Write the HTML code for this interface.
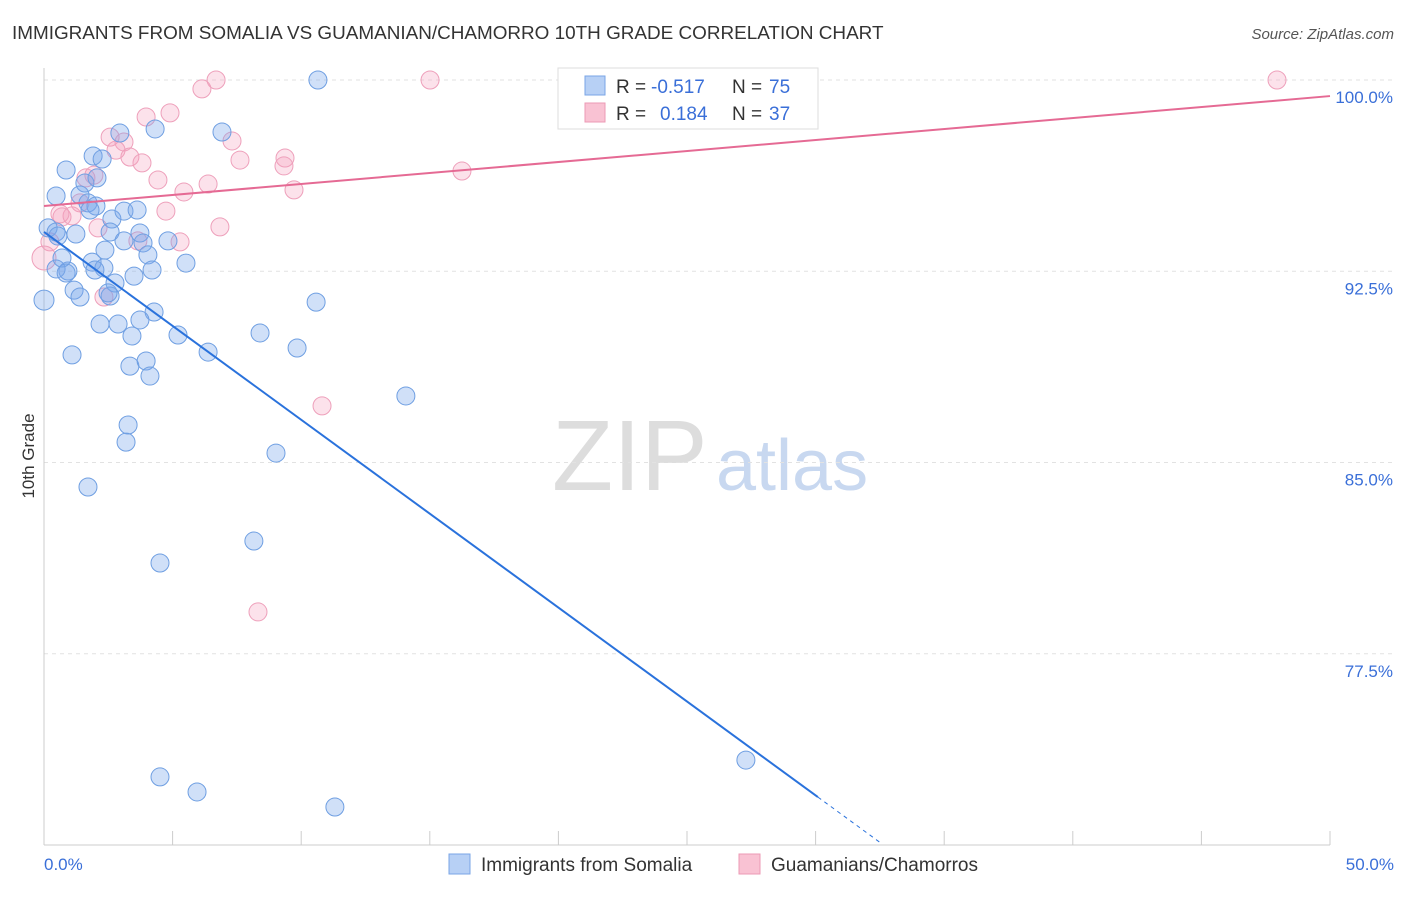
<!DOCTYPE html>
<html><head><meta charset="utf-8"><style>
body{margin:0;background:#fff;font-family:"Liberation Sans",sans-serif;}
svg text{font-family:"Liberation Sans",sans-serif;}
</style></head><body>
<svg id="chart" width="1406" height="892" xmlns="http://www.w3.org/2000/svg">
<text x="12" y="39" font-size="18.9" fill="#333">IMMIGRANTS FROM SOMALIA VS GUAMANIAN/CHAMORRO 10TH GRADE CORRELATION CHART</text>
<text x="1394" y="39" font-size="15" fill="#555" text-anchor="end" font-style="italic">Source: ZipAtlas.com</text>
<text x="552" y="490" font-size="100" fill="#ddd" font-family="Liberation Serif">ZIP</text>
<text x="716" y="490" font-size="72" fill="#c8d8f0">atlas</text>
<text transform="translate(34,456) rotate(-90)" font-size="17" fill="#333" text-anchor="middle">10th Grade</text>
<g id="grid"></g><g id="axes"></g><g id="pts"></g><g id="lines"></g>
<g>
<rect x="558" y="68" width="260" height="61" fill="#fff" stroke="#ddd"/>
<rect x="585" y="76" width="20" height="19" fill="#b7d0f5" stroke="#7aa5e6"/>
<rect x="585" y="103" width="20" height="19" fill="#f9c2d3" stroke="#ec9ab5"/>
<text x="616" y="93" font-size="19" fill="#333">R =</text>
<text x="651" y="93" font-size="19" fill="#3a6fd8">-0.517</text>
<text x="732" y="93" font-size="19" fill="#333">N =</text>
<text x="769" y="93" font-size="19" fill="#3a6fd8">75</text>
<text x="616" y="120" font-size="19" fill="#333">R =</text>
<text x="660" y="120" font-size="19" fill="#3a6fd8">0.184</text>
<text x="732" y="120" font-size="19" fill="#333">N =</text>
<text x="769" y="120" font-size="19" fill="#3a6fd8">37</text>
</g>
<g>
<rect x="449" y="854" width="21" height="20" fill="#b7d0f5" stroke="#7aa5e6"/>
<text x="481" y="871" font-size="19" fill="#333">Immigrants from Somalia</text>
<rect x="739" y="854" width="21" height="20" fill="#f9c2d3" stroke="#ec9ab5"/>
<text x="771" y="871" font-size="19" fill="#333">Guamanians/Chamorros</text>
</g>
</svg>
<script>
const blueX=[0,0.47,0.86,2.95,4.32,6.92,10.65,1.91,2.26,1.59,2.06,1.40,1.71,2.02,1.79,0.16,0.47,1.24,2.64,3.11,3.62,2.57,3.73,3.11,3.85,4.82,2.37,4.04,1.87,2.33,0.93,0.47,1.98,3.50,4.20,5.52,2.76,1.17,1.40,2.57,2.49,4.28,3.73,2.18,2.88,3.42,5.21,6.38,8.40,9.84,10.58,1.09,3.34,3.97,4.12,14.07,3.27,3.19,9.02,1.71,8.16,4.51,4.51,5.95,11.31,27.29,0.70,0.86,0.54];
const blueY=[91.37,95.45,96.47,97.92,98.08,97.96,100,97.02,96.90,95.96,96.16,95.49,95.18,95.06,94.90,94.20,94.04,93.96,94.55,94.86,94.90,94.04,94.00,93.69,93.61,93.69,93.33,93.14,92.86,92.63,92.51,92.59,92.55,92.31,92.55,92.82,92.04,91.76,91.49,91.53,91.65,90.90,90.59,90.43,90.43,89.96,90.00,89.33,90.08,89.49,91.29,89.22,88.78,88.98,88.39,87.61,86.47,85.80,85.37,84.04,81.92,81.06,72.67,72.08,71.49,73.33,93.02,92.43,93.88];
const pinkX=[6.69,15.01,47.94,6.14,4.90,3.97,2.57,3.11,7.31,2.80,3.34,3.81,7.62,9.37,9.33,16.25,1.63,1.94,4.43,6.38,5.44,9.72,1.40,4.74,0.70,1.09,2.10,6.84,3.65,5.29,0.23,0,2.33,10.81,8.32,0.62];
const pinkY=[100,100,100,99.65,98.71,98.55,97.76,97.57,97.61,97.25,96.98,96.75,96.86,96.94,96.63,96.43,96.16,96.27,96.08,95.92,95.61,95.69,95.18,94.86,94.63,94.67,94.20,94.24,93.69,93.65,93.65,93.02,91.49,87.22,79.14,94.75];
const yTicks=[100,92.5,85,77.5];
const yTickLabels=["100.0%","92.5%","85.0%","77.5%"];
const blueTrend=[94.04,-0.7365];
const pinkTrend=[95.06,0.0862];
const NS="http://www.w3.org/2000/svg";
const sx=v=>44+v*25.72, sy=v=>80+(100-v)*25.5;
function mk(t,a,p){const e=document.createElementNS(NS,t);for(const k in a)e.setAttribute(k,a[k]);document.getElementById(p).appendChild(e);return e;}
yTicks.forEach((t,i)=>{
 const g=mk('line',{x1:44,x2:1394,y1:sy(t),y2:sy(t),stroke:'#e2e2e2','stroke-dasharray':'4,4'},'grid');
 
 
 const l=mk('text',{x:1393,y:sy(t)+23,'font-size':17,fill:'#3a6fd8','text-anchor':'end'},'grid');
 l.textContent=yTickLabels[i];
 
 
});
const ax=mk('line',{x1:44,x2:44,y1:68,y2:845,stroke:'#ccc'},'axes');


const bx=mk('line',{x1:44,x2:1330,y1:845,y2:845,stroke:'#ccc'},'axes');


for(let i=0;i<=10;i++){const t=mk('line',{x1:sx(i*5),x2:sx(i*5),y1:831,y2:845,stroke:'#ccc'},'axes');
 
 }
const x0=mk('text',{x:44,y:870,'font-size':17,fill:'#3a6fd8'},'axes');x0.textContent='0.0%';


const x1=mk('text',{x:1394,y:870,'font-size':17,fill:'#3a6fd8','text-anchor':'end'},'axes');x1.textContent='50.0%';


pinkX.forEach((x,i)=>{const c=mk('circle',{cx:sx(x),cy:sy(pinkY[i]),r:(x===0?12:9),fill:'rgba(244,160,190,0.3)',stroke:'#eea0bb','stroke-width':1},'pts');
 
 });
blueX.forEach((x,i)=>{const c=mk('circle',{cx:sx(x),cy:sy(blueY[i]),r:(x===0?10:9),fill:'rgba(120,165,235,0.35)',stroke:'#6f9fe2','stroke-width':1},'pts');
 
 });
const bl=mk('line',{x1:sx(0),y1:sy(blueTrend[0]),x2:sx(30.09),y2:sy(blueTrend[0]+blueTrend[1]*30.09),stroke:'#2a72dc','stroke-width':2},'lines');


const bd=mk('line',{x1:sx(30.09),y1:sy(blueTrend[0]+blueTrend[1]*30.09),x2:sx(32.5),y2:sy(blueTrend[0]+blueTrend[1]*32.5),stroke:'#2a72dc','stroke-width':1,'stroke-dasharray':'4,4'},'lines');


const pl=mk('line',{x1:sx(0),y1:sy(pinkTrend[0]),x2:sx(50),y2:sy(pinkTrend[0]+pinkTrend[1]*50),stroke:'#e56a94','stroke-width':2},'lines');


</script>
</body></html>
